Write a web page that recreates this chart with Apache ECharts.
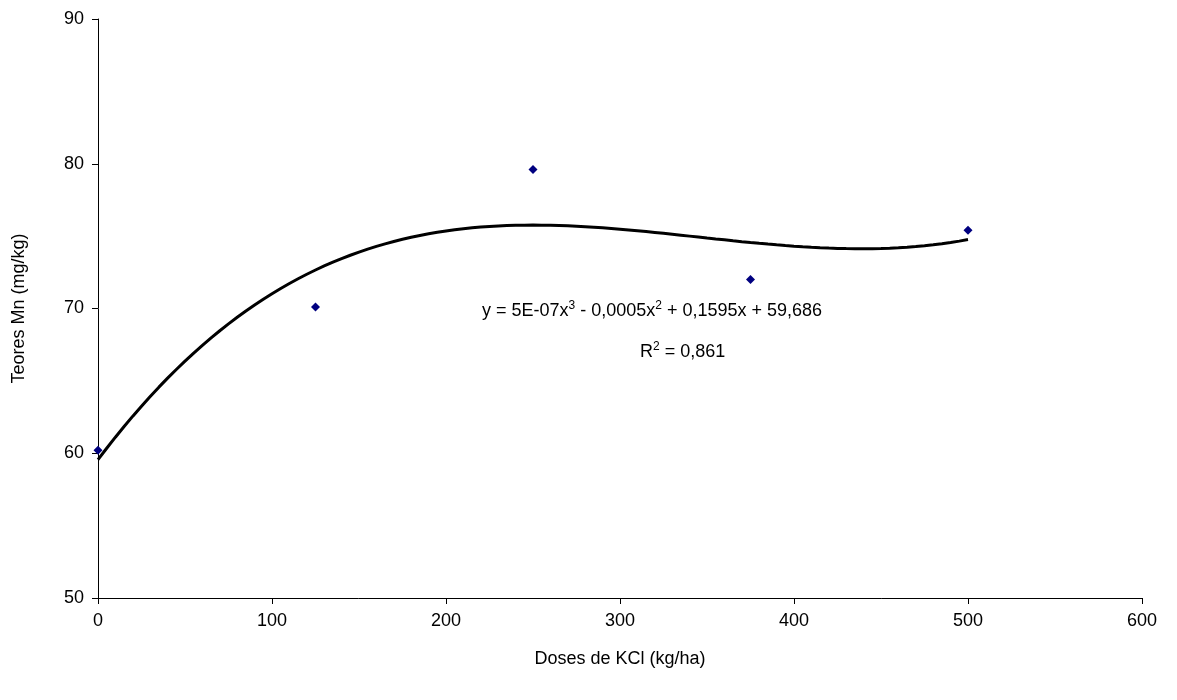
<!DOCTYPE html>
<html lang="en">
  <head>
    <meta charset="UTF-8" />
    <title>Teores Mn</title>
    <script src="https://cdn.jsdelivr.net/npm/echarts@6/dist/echarts.min.js"></script>
    <style>body{margin:0;background:#fff}</style>
  </head>
  <body>
    <div id="main" style="width: 1177px; height: 700px"></div>
    <script type="text/javascript">
      // observed points
      const doses = [0, 125, 250, 375, 500];
      const teores = [60.2, 70.1, 79.6, 72.0, 75.4];

      // least squares cubic fit (the trendline Excel drew)
      function cubicFit(xs, ys) {
        const n = 4;
        const A = [], b = [];
        for (let i = 0; i < n; i++) {
          A.push([]);
          for (let j = 0; j < n; j++) A[i].push(xs.reduce((s, x) => s + Math.pow(x, i + j), 0));
          b.push(xs.reduce((s, x, k) => s + ys[k] * Math.pow(x, i), 0));
        }
        for (let i = 0; i < n; i++) {
          for (let k = i + 1; k < n; k++) {
            const f = A[k][i] / A[i][i];
            for (let j = i; j < n; j++) A[k][j] -= f * A[i][j];
            b[k] -= f * b[i];
          }
        }
        const c = new Array(n).fill(0);
        for (let i = n - 1; i >= 0; i--) {
          let s = b[i];
          for (let j = i + 1; j < n; j++) s -= A[i][j] * c[j];
          c[i] = s / A[i][i];
        }
        return c;
      }
      const coef = cubicFit(doses, teores);
      const trend = [];
      for (let x = 0; x <= 500; x += 5) {
        trend.push([x, coef[0] + coef[1] * x + coef[2] * x * x + coef[3] * x * x * x]);
      }

      const font = "Liberation Sans, Arial, sans-serif";
      const axisCommon = {
        axisLine: { show: true, lineStyle: { color: "#000", width: 1 } },
        axisTick: { show: true, inside: false, length: 6, lineStyle: { color: "#000" } },
        axisLabel: { color: "#000", fontSize: 18, fontFamily: font, margin: 14 },
        splitLine: { show: false },
        nameTextStyle: { color: "#000", fontSize: 18, fontFamily: font },
      };
      const sup = { fontSize: 12, verticalAlign: "top", padding: [0, 0, 10, 0], fill: "#000", fontFamily: font };

      let options = {
        animation: false,
        backgroundColor: "#fff",
        grid: { left: 98, right: 35, top: 19, bottom: 102 },
        xAxis: Object.assign({}, axisCommon, {
          type: "value", min: 0, max: 600, interval: 100,
          name: "Doses de KCl (kg/ha)", nameLocation: "middle", nameGap: 52,
        }),
        yAxis: Object.assign({}, axisCommon, {
          type: "value", min: 50, max: 90, interval: 10,
          name: "Teores Mn (mg/kg)", nameLocation: "middle", nameGap: 70,
        }),
        graphic: [
          {
            type: "text", left: 482, top: 300,
            style: {
              text: "y = 5E-07x{s|3} - 0,0005x{s|2} + 0,1595x + 59,686",
              fill: "#000", font: "18px " + font, rich: { s: sup },
            },
          },
          {
            type: "text", left: 640, top: 341,
            style: { text: "R{s|2} = 0,861", fill: "#000", font: "18px " + font, rich: { s: sup } },
          },
        ],
        series: [
          {
            type: "line", data: trend, showSymbol: false,
            lineStyle: { color: "#000", width: 3 }, z: 1,
          },
          {
            type: "scatter", data: doses.map((d, i) => [d, teores[i]]),
            symbol: "diamond", symbolSize: 9,
            itemStyle: { color: "#000080", opacity: 1 }, z: 2,
          },
        ],
      };
      let myChart = echarts.init(document.getElementById("main"));
      myChart.setOption(options);
    </script>
  </body>
</html>
